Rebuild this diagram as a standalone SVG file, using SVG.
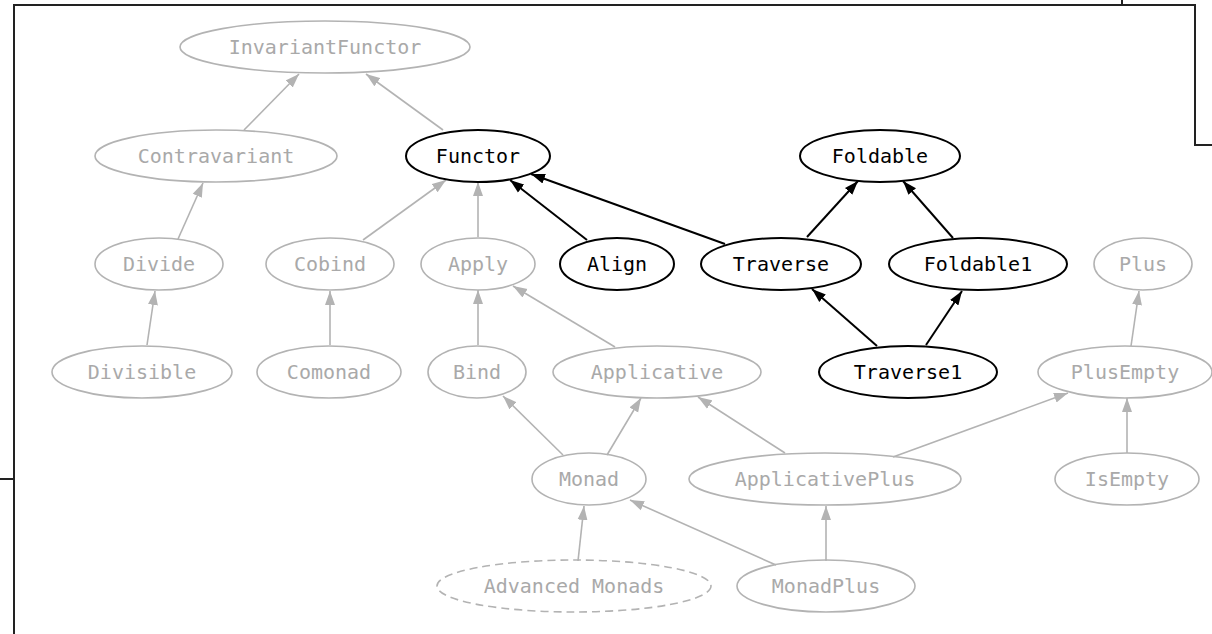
<svg xmlns="http://www.w3.org/2000/svg" width="1212" height="634" viewBox="0 0 1212 634">
<style>
.g ellipse{fill:none;stroke:#b3b3b3;stroke-width:1.6}
.g text{fill:#a9a9a9}
.b ellipse{fill:none;stroke:#000;stroke-width:2}
.b text{fill:#000}
text{font-family:"DejaVu Sans Mono","Liberation Mono",monospace;font-size:20px;text-anchor:middle}
.eg{stroke:#b3b3b3;stroke-width:1.6;fill:none;marker-end:url(#ag)}
.eb{stroke:#000;stroke-width:2;fill:none;marker-end:url(#ab)}
.frame{stroke:#222;stroke-width:2;fill:none}
</style>
<defs>
<marker id="ag" markerUnits="userSpaceOnUse" markerWidth="14" markerHeight="11" refX="14" refY="5.5" orient="auto"><path d="M0,0.5 L14,5.5 L0,10.5 z" fill="#b3b3b3"/></marker>
<marker id="ab" markerUnits="userSpaceOnUse" markerWidth="14" markerHeight="11" refX="14" refY="5.5" orient="auto"><path d="M0,0.5 L14,5.5 L0,10.5 z" fill="#000"/></marker>
</defs>
<rect width="1212" height="634" fill="#fff"/>
<g id="frame">
<path class="frame" d="M14,634 L14,5 L1195,5 L1195,145 L1212,145"/>
<path class="frame" d="M1122,0 L1122,5"/>
<path class="frame" d="M0,479 L14,479"/>
</g>
<g id="connectors">
<line class="eg" x1="244" y1="130" x2="299" y2="74"/>
<line class="eg" x1="443" y1="130" x2="366" y2="74"/>
<line class="eg" x1="178" y1="239" x2="203" y2="183"/>
<line class="eg" x1="147" y1="345" x2="155" y2="291"/>
<line class="eg" x1="330" y1="345" x2="330" y2="291"/>
<line class="eg" x1="363" y1="240" x2="446" y2="180"/>
<line class="eg" x1="478" y1="237" x2="478" y2="182"/>
<line class="eb" x1="587" y1="240" x2="510" y2="180"/>
<line class="eb" x1="725" y1="244" x2="531" y2="174"/>
<line class="eb" x1="807" y1="237" x2="858" y2="181"/>
<line class="eb" x1="953" y1="238" x2="903" y2="181"/>
<line class="eb" x1="877" y1="346" x2="812" y2="289"/>
<line class="eb" x1="926" y1="345" x2="962" y2="291"/>
<line class="eg" x1="478" y1="345" x2="478" y2="290"/>
<line class="eg" x1="615" y1="347" x2="513" y2="286"/>
<line class="eg" x1="563" y1="455" x2="503" y2="396"/>
<line class="eg" x1="607" y1="455" x2="641" y2="398"/>
<line class="eg" x1="785" y1="453" x2="698" y2="397"/>
<line class="eg" x1="893" y1="457" x2="1068" y2="393"/>
<line class="eg" x1="1131" y1="346" x2="1139" y2="291"/>
<line class="eg" x1="1127" y1="453" x2="1127" y2="398"/>
<line class="eg" x1="578" y1="561" x2="584" y2="506"/>
<line class="eg" x1="776" y1="565" x2="630" y2="500"/>
<line class="eg" x1="826" y1="561" x2="826" y2="506"/>
</g>
<g id="InvariantFunctor" class="g"><ellipse cx="325" cy="47" rx="145" ry="26"/><text x="325" y="54">InvariantFunctor</text></g>
<g id="Contravariant" class="g"><ellipse cx="216" cy="156" rx="121" ry="26"/><text x="216" y="163">Contravariant</text></g>
<g id="Functor" class="b"><ellipse cx="478" cy="156" rx="72" ry="26"/><text x="478" y="163">Functor</text></g>
<g id="Foldable" class="b"><ellipse cx="880" cy="156" rx="80" ry="26"/><text x="880" y="163">Foldable</text></g>
<g id="Divide" class="g"><ellipse cx="159" cy="264" rx="64" ry="26"/><text x="159" y="271">Divide</text></g>
<g id="Cobind" class="g"><ellipse cx="330" cy="264" rx="64" ry="26"/><text x="330" y="271">Cobind</text></g>
<g id="Apply" class="g"><ellipse cx="478" cy="264" rx="57" ry="26"/><text x="478" y="271">Apply</text></g>
<g id="Align" class="b"><ellipse cx="617" cy="264" rx="57" ry="26"/><text x="617" y="271">Align</text></g>
<g id="Traverse" class="b"><ellipse cx="781" cy="264" rx="80" ry="26"/><text x="781" y="271">Traverse</text></g>
<g id="Foldable1" class="b"><ellipse cx="978" cy="264" rx="89" ry="26"/><text x="978" y="271">Foldable1</text></g>
<g id="Plus" class="g"><ellipse cx="1143" cy="264" rx="49" ry="26"/><text x="1143" y="271">Plus</text></g>
<g id="Divisible" class="g"><ellipse cx="142" cy="372" rx="90" ry="26"/><text x="142" y="379">Divisible</text></g>
<g id="Comonad" class="g"><ellipse cx="329" cy="372" rx="72" ry="26"/><text x="329" y="379">Comonad</text></g>
<g id="Bind" class="g"><ellipse cx="477" cy="372" rx="49" ry="26"/><text x="477" y="379">Bind</text></g>
<g id="Applicative" class="g"><ellipse cx="657" cy="372" rx="104" ry="26"/><text x="657" y="379">Applicative</text></g>
<g id="Traverse1" class="b"><ellipse cx="908" cy="372" rx="89" ry="26"/><text x="908" y="379">Traverse1</text></g>
<g id="PlusEmpty" class="g"><ellipse cx="1125" cy="372" rx="87" ry="26"/><text x="1125" y="379">PlusEmpty</text></g>
<g id="Monad" class="g"><ellipse cx="589" cy="479" rx="57" ry="26"/><text x="589" y="486">Monad</text></g>
<g id="ApplicativePlus" class="g"><ellipse cx="825" cy="479" rx="136" ry="26"/><text x="825" y="486">ApplicativePlus</text></g>
<g id="IsEmpty" class="g"><ellipse cx="1127" cy="479" rx="72" ry="26"/><text x="1127" y="486">IsEmpty</text></g>
<g id="AdvancedMonads" class="g"><ellipse cx="574" cy="586" rx="137" ry="26" stroke-dasharray="8,5"/><text x="574" y="593">Advanced Monads</text></g>
<g id="MonadPlus" class="g"><ellipse cx="826" cy="586" rx="89" ry="26"/><text x="826" y="593">MonadPlus</text></g>
</svg>
